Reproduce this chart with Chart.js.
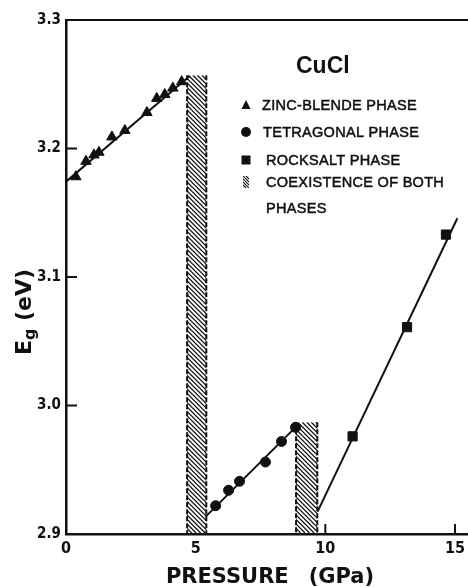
<!DOCTYPE html>
<html>
<head>
<meta charset="utf-8">
<script src="https://cdn.jsdelivr.net/npm/chart.js@4.4.1/dist/chart.umd.min.js"></script>
<style>
  body { margin: 0; background: #fff; }
  canvas { display: block; }
</style>
</head>
<body>
<canvas id="gapChart" width="468" height="587"></canvas>
<script>
// CuCl band gap vs pressure

// zinc-blende phase
const zbPressure = [0.38, 0.77, 1.08, 1.27, 1.77, 2.27, 3.12, 3.50, 3.81, 4.12, 4.46];
const zbGap = [3.178, 3.190, 3.195, 3.197, 3.209, 3.214, 3.228, 3.239, 3.242, 3.247, 3.252];
const zbFitP = [0, 4.77];
const zbFitE = [3.1742, 3.2564];

// tetragonal phase
const tetPressure = [5.77, 6.27, 6.69, 7.69, 8.31, 8.85];
const tetGap = [2.922, 2.934, 2.941, 2.956, 2.972, 2.983];
const tetFitP = [5.385, 8.846];
const tetFitE = [2.9135, 2.983];

// rocksalt phase
const rsPressure = [11.05, 13.15, 14.65];
const rsGap = [2.976, 3.061, 3.133];
const rsFitP = [9.70, 15.09];
const rsFitE = [2.9174, 3.1457];

// coexistence ranges (pressure from/to, upper gap value)
const coexFrom = [4.67, 8.87];
const coexTo = [5.41, 9.69];
const coexTop = [3.257, 2.987];

const pressureTicks = [0, 5, 10, 15];
const gapTicks = [2.9, 3.0, 3.1, 3.2, 3.3];

const INK = '#111';

function pts(xs, ys) {
  return xs.map((x, i) => ({ x: x, y: ys[i] }));
}

function fitLine(xs, ys) {
  return { data: pts(xs, ys), showLine: true, borderColor: INK, borderWidth: 2,
           pointRadius: 0, fill: false };
}

function markers(xs, ys, style, r) {
  return { data: pts(xs, ys), showLine: false, pointStyle: style, pointRadius: r,
           backgroundColor: INK, borderColor: INK, borderWidth: 1 };
}

function hatch(ctx, x0, y0, x1, y1, step, lw) {
  ctx.save();
  ctx.beginPath();
  ctx.rect(x0, y0, x1 - x0, y1 - y0);
  ctx.clip();
  ctx.fillStyle = '#fff';
  ctx.fillRect(x0, y0, x1 - x0, y1 - y0);
  const h = y1 - y0;
  ctx.beginPath();
  for (let s = -h; s < x1 - x0; s += step) {
    ctx.moveTo(x0 + s, y0);
    ctx.lineTo(x0 + s + h, y1);
  }
  ctx.strokeStyle = INK;
  ctx.lineWidth = lw;
  ctx.stroke();
  ctx.restore();
}

function coexBox(ctx, x0, y0, x1, y1) {
  hatch(ctx, x0, y0, x1, y1, 4.5, 1.3);
  ctx.save();
  ctx.strokeStyle = INK;
  ctx.lineWidth = 2;
  ctx.setLineDash([5, 2]);
  ctx.beginPath();
  ctx.moveTo(x0, y0); ctx.lineTo(x0, y1);
  ctx.moveTo(x1, y0); ctx.lineTo(x1, y1);
  ctx.stroke();
  ctx.restore();
}

const framePlugin = {
  id: 'frame',
  beforeDatasetsDraw(chart) {
    const { ctx, chartArea: a, scales: { x, y } } = chart;
    ctx.save();
    ctx.strokeStyle = INK;
    ctx.lineWidth = 2;
    // top border
    ctx.beginPath();
    ctx.moveTo(a.left, a.top);
    ctx.lineTo(chart.width, a.top);
    ctx.stroke();
    // inward tick marks
    ctx.beginPath();
    gapTicks.slice(1, -1).forEach(v => {
      const py = y.getPixelForValue(v);
      ctx.moveTo(a.left, py); ctx.lineTo(a.left + 11, py);
    });
    pressureTicks.slice(1).forEach(v => {
      const px = x.getPixelForValue(v);
      ctx.moveTo(px, a.bottom); ctx.lineTo(px, a.bottom - 10);
    });
    ctx.stroke();
    ctx.restore();

    coexFrom.forEach((p, i) => {
      coexBox(ctx, x.getPixelForValue(p), y.getPixelForValue(coexTop[i]),
              x.getPixelForValue(coexTo[i]), a.bottom - 1);
    });
  },
  afterDraw(chart) {
    const { ctx, chartArea: a } = chart;
    ctx.save();
    ctx.fillStyle = INK;
    ctx.strokeStyle = INK;

    // x axis title, words spread apart
    ctx.font = 'bold 21px "DejaVu Sans", sans-serif';
    ctx.textAlign = 'left';
    ctx.textBaseline = 'alphabetic';
    const w1 = ctx.measureText('PRESSURE').width;
    const w2 = ctx.measureText('(GPa)').width;
    const gap = 20;
    let tx = (a.left + a.right) / 2 + 3 - (w1 + gap + w2) / 2;
    ctx.fillText('PRESSURE', tx, 583);
    ctx.fillText('(GPa)', tx + w1 + gap, 583);

    // y axis title with subscript
    ctx.save();
    ctx.translate(31, 312);
    ctx.rotate(-Math.PI / 2);
    const big = 'bold 22px "DejaVu Sans", sans-serif';
    const small = 'bold 16px "DejaVu Sans", sans-serif';
    ctx.font = big;
    const wE = ctx.measureText('E').width;
    const wRest = ctx.measureText(' (eV)').width;
    ctx.font = small;
    const wg = ctx.measureText('g').width;
    let cx = -(wE + wg + wRest) / 2;
    ctx.font = big;
    ctx.fillText('E', cx, 0);
    cx += wE;
    ctx.font = small;
    ctx.fillText('g', cx, 4);
    cx += wg;
    ctx.font = big;
    ctx.fillText(' (eV)', cx, 0);
    ctx.restore();

    // legend
    const lx = 246;
    ctx.font = 'bold 23px "Liberation Sans", Arial, sans-serif';
    ctx.textBaseline = 'middle';
    ctx.fillText('CuCl', 296, 67);

    ctx.font = '14.5px "Liberation Sans", Arial, sans-serif';
    ctx.letterSpacing = '0.3px';
    ctx.lineWidth = 0.5;
    [['ZINC-BLENDE PHASE', 262, 106], ['TETRAGONAL PHASE', 263, 133],
     ['ROCKSALT PHASE', 266, 161], ['COEXISTENCE OF BOTH', 266, 183],
     ['PHASES', 266, 209]].forEach(([t, px, py]) => {
      ctx.fillText(t, px, py);
      ctx.strokeText(t, px, py);
    });
    ctx.letterSpacing = '0px';

    // legend symbols
    ctx.beginPath();
    ctx.moveTo(lx, 100); ctx.lineTo(lx + 4.5, 109); ctx.lineTo(lx - 4.5, 109);
    ctx.closePath();
    ctx.fill();
    ctx.beginPath();
    ctx.arc(lx, 132, 5, 0, Math.PI * 2);
    ctx.fill();
    ctx.fillRect(lx - 4.5, 155.5, 9, 9);
    hatch(ctx, lx - 3, 176, lx + 3, 188, 3, 1.2);
    ctx.restore();
  }
};

new Chart(document.getElementById('gapChart'), {
  type: 'scatter',
  data: {
    datasets: [
      fitLine(zbFitP, zbFitE),
      markers(zbPressure, zbGap, 'triangle', 6),
      fitLine(tetFitP, tetFitE),
      markers(tetPressure, tetGap, 'circle', 5),
      fitLine(rsFitP, rsFitE),
      markers(rsPressure, rsGap, 'rect', 6.5)
    ]
  },
  options: {
    responsive: false,
    animation: false,
    layout: { autoPadding: false, padding: { top: 20, right: 0, left: 0, bottom: 0 } },
    plugins: { legend: { display: false }, tooltip: { enabled: false } },
    scales: {
      x: {
        type: 'linear',
        min: 0,
        max: 15.5,
        afterBuildTicks: s => { s.ticks = pressureTicks.map(v => ({ value: v })); },
        afterFit: s => { s.height = 53; s.paddingLeft = 0; s.paddingRight = 0; },
        grid: { display: false, drawTicks: false },
        border: { display: true, color: INK, width: 2.5 },
        ticks: {
          color: INK,
          padding: 5,
          maxRotation: 0,
          font: { family: '"DejaVu Sans Condensed", "DejaVu Sans", sans-serif', weight: 'bold', size: 16 },
          callback: v => String(v)
        }
      },
      y: {
        min: 2.9,
        max: 3.3,
        afterBuildTicks: s => { s.ticks = gapTicks.map(v => ({ value: v })); },
        afterFit: s => { s.width = 66; },
        grid: { display: false, drawTicks: false },
        border: { display: true, color: INK, width: 2.5 },
        ticks: {
          color: INK,
          padding: 5,
          font: { family: '"DejaVu Sans Condensed", "DejaVu Sans", sans-serif', weight: 'bold', size: 15 },
          callback: v => v.toFixed(1)
        }
      }
    }
  },
  plugins: [framePlugin]
});
</script>
</body>
</html>
